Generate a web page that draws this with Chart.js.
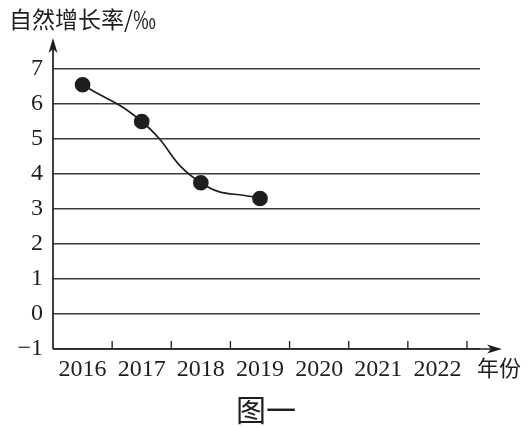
<!DOCTYPE html>
<html>
<head>
<meta charset="utf-8">
<script src="https://cdn.jsdelivr.net/npm/chart.js@4/dist/chart.umd.min.js"></script>
<style>
html,body{margin:0;padding:0;background:#fff;}
canvas{display:block;}
</style>
</head>
<body>
<canvas id="c" width="532" height="427"></canvas>
<script>
// ---- data ----
const years = [2016, 2017, 2018, 2019, 2020, 2021, 2022];
const dataYears = [2016, 2017, 2018, 2019];
const rates = [6.55, 5.5, 3.75, 3.3];
const yTicks = [-1, 0, 1, 2, 3, 4, 5, 6, 7];
const yTitle = '自然增长率/‰';
const xTitle = '年份';
const caption = '图一';

const INK = '#1e1e1e';

const decor = {
  id: 'decor',
  afterDraw(chart) {
    const ctx = chart.ctx;
    const x = chart.scales.x, y = chart.scales.y;
    const left = chart.chartArea.left, bottom = y.getPixelForValue(yTicks[0]);
    const top = chart.chartArea.top, right = chart.chartArea.right;
    ctx.save();
    ctx.strokeStyle = INK; ctx.fillStyle = INK; ctx.lineWidth = 1.7;
    // y axis with arrow
    const yTip = top - 31;
    ctx.beginPath(); ctx.moveTo(left, bottom); ctx.lineTo(left, yTip + 4); ctx.stroke();
    ctx.beginPath(); ctx.moveTo(left, yTip); ctx.lineTo(left - 4.5, yTip + 15); ctx.lineTo(left, yTip + 11); ctx.lineTo(left + 4.5, yTip + 15); ctx.closePath(); ctx.fill();
    // x axis with arrow
    const xTip = right + 22;
    ctx.beginPath(); ctx.moveTo(left, bottom); ctx.lineTo(xTip - 4, bottom); ctx.stroke();
    ctx.beginPath(); ctx.moveTo(xTip, bottom); ctx.lineTo(xTip - 15, bottom - 4.5); ctx.lineTo(xTip - 11, bottom); ctx.lineTo(xTip - 15, bottom + 4.5); ctx.closePath(); ctx.fill();
    // tick marks between categories
    ctx.lineWidth = 1.3;
    years.forEach(v => {
      const px = x.getPixelForValue(v + 0.5);
      ctx.beginPath(); ctx.moveTo(px, bottom); ctx.lineTo(px, bottom - 8); ctx.stroke();
    });
    // texts
    ctx.textBaseline = 'middle';
    ctx.textAlign = 'left';
    ctx.font = '23px "Noto Sans CJK SC"';
    ctx.fillText(yTitle, 9, 19);
    ctx.font = '22px "Noto Sans CJK SC"';
    ctx.fillText(xTitle, right - 3, bottom + 19);
    ctx.textAlign = 'center';
    ctx.font = '30px "Noto Sans CJK SC"';
    ctx.fillText(caption, 266, 410);
    ctx.restore();
  }
};

new Chart(document.getElementById('c'), {
  type: 'line',
  data: {
    datasets: [{
      data: dataYears.map((yr, i) => ({x: yr, y: rates[i]})),
      borderColor: INK,
      borderWidth: 1.7,
      tension: 0.5,
      pointRadius: 7,
      pointBackgroundColor: INK,
      pointBorderColor: INK,
      fill: false
    }]
  },
  options: {
    responsive: false,
    devicePixelRatio: 1,
    animation: false,
    layout: {padding: {top: 69, right: 52, left: 0, bottom: 0}},
    plugins: {legend: {display: false}, tooltip: {enabled: false}},
    scales: {
      x: {
        type: 'linear',
        min: years[0] - 0.5,
        max: years[years.length - 1] + 0.72,
        afterBuildTicks: s => { s.ticks = years.map(v => ({value: v})); },
        afterFit: s => { s.height = 78; },
        border: {display: false},
        grid: {display: false, drawTicks: false},
        ticks: {
          padding: 6,
          color: INK,
          autoSkip: false,
          maxRotation: 0,
          font: {family: '"Liberation Serif"', size: 24},
          callback: v => String(v)
        }
      },
      y: {
        min: yTicks[0],
        max: yTicks[yTicks.length - 1],
        afterBuildTicks: s => { s.ticks = yTicks.map(v => ({value: v})); },
        afterFit: s => { s.width = 53; },
        border: {display: false},
        grid: {color: '#3c3c3c', lineWidth: 1.4, drawTicks: false},
        ticks: {
          padding: 10,
          color: INK,
          font: {family: '"Liberation Serif"', size: 24},
          callback: v => (v < 0 ? '\u2212' + Math.abs(v) : String(v))
        }
      }
    }
  },
  plugins: [decor]
});
</script>
</body>
</html>
